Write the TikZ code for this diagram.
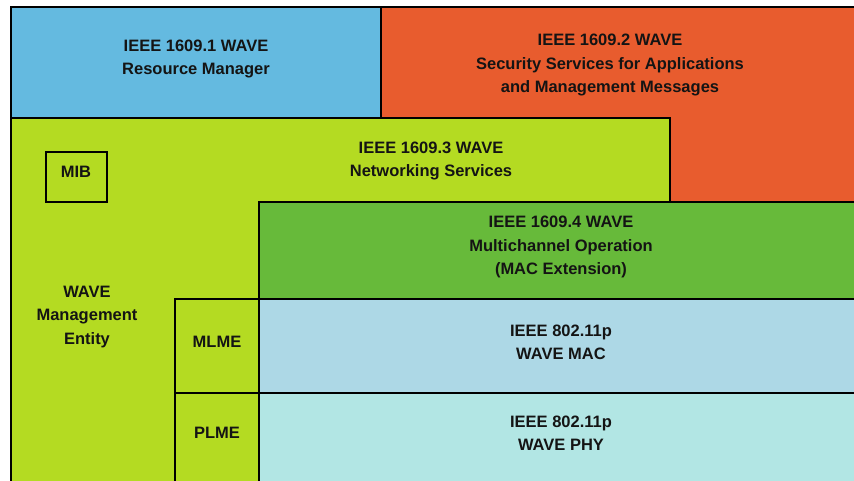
\documentclass[tikz,border=0pt]{standalone}
\usepackage{fontspec}
\setmainfont{Liberation Sans}
\usetikzlibrary{positioning}
\definecolor{rmblue}{HTML}{64BAE0}
\definecolor{secorange}{HTML}{E85C2E}
\definecolor{netlime}{HTML}{B4DB22}
\definecolor{macgreen}{HTML}{67BA3A}
\definecolor{maclight}{HTML}{ADD8E6}
\definecolor{phylight}{HTML}{B2E6E4}
\tikzset{
  wave box/.style={draw=black, line width=1.8pt},
  wave text/.style={align=center, inner sep=0pt, text=black!92,
    font=\fontsize{16.5}{23.3}\selectfont\bfseries}
}

\begin{document}
\begin{tikzpicture}[x=1pt, y=-1pt]
    \useasboundingbox (0,0) rectangle (854,481);
    % Layer boxes, back to front
    \begin{scope}
      \clip (0,0) rectangle (854,481);
      \draw [wave box, fill=rmblue] (11,7) rectangle (381,118);
      \draw [wave box, fill=secorange] (381,7) rectangle (870,202);
      \draw [wave box, fill=netlime] (11,118) rectangle (670,500);
      \draw [wave box, fill=macgreen] (259,202) rectangle (870,299);
      \draw [wave box, fill=maclight] (259,299) rectangle (870,393);
      \draw [wave box, fill=phylight] (259,393) rectangle (870,500);
      \draw [wave box, fill=netlime] (175,299) rectangle (259,393);
      \draw [wave box, fill=netlime] (175,393) rectangle (259,500);
      \draw [wave box] (46,152) rectangle (107,202);
    \end{scope}

    % Labels
    \node [wave text] (ResMgr) at (196,59) {IEEE 1609.1 WAVE\\Resource Manager};
    \node [wave text] (Security) at (610,65) {IEEE 1609.2 WAVE\\Security Services for Applications\\and Management Messages};
    \node [wave text] (Network) at (431,161) {IEEE 1609.3 WAVE\\Networking Services};
    \node [wave text] (MIB) at (76,172) {MIB};
    \node [wave text] (WME) at (87,317) {WAVE\\Management\\Entity};
    \node [wave text] (Multi) at (561,247) {IEEE 1609.4 WAVE\\Multichannel Operation\\(MAC Extension)};
    \node [wave text] (MLME) at (217,342) {MLME};
    \node [wave text] (PLME) at (217,433) {PLME};
    \node [wave text] (MAC) at (561,342) {IEEE 802.11p\\WAVE MAC};
    \node [wave text] (PHY) at (561,433) {IEEE 802.11p\\WAVE PHY};
\end{tikzpicture}
\end{document}
